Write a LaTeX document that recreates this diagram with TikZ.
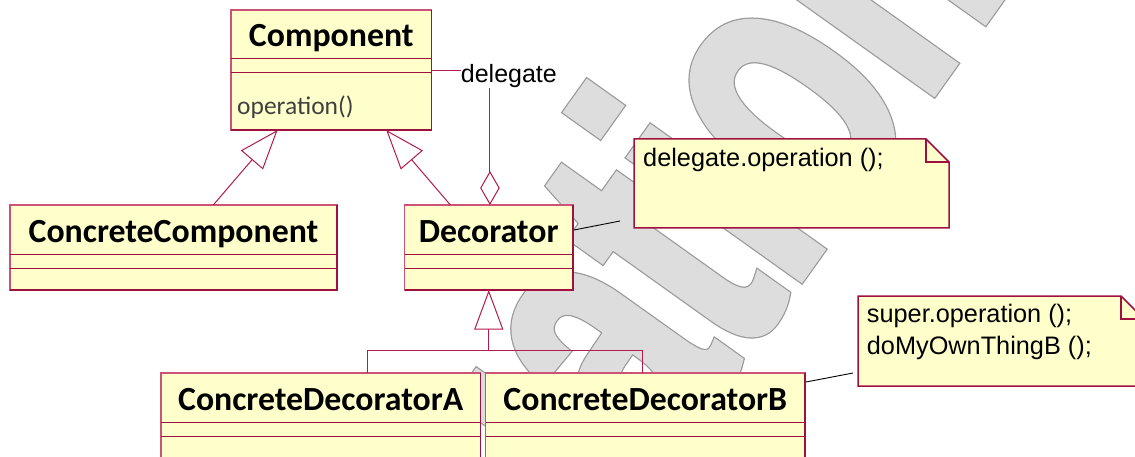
\documentclass[tikz,border=0pt]{standalone}
\usepackage{fontspec}
\setmainfont{Liberation Sans}
\newfontfamily\classfont{Carlito}
\newfontfamily\stampfont{Liberation Sans}[FakeStretch=0.647]
\usetikzlibrary{arrows.meta,calc}

\definecolor{boxfill}{HTML}{FFFFCC}
\definecolor{boxlight}{HTML}{CC5277}
\definecolor{boxdark}{HTML}{A0103F}
\definecolor{linkred}{HTML}{B31B4C}
\definecolor{stampface}{HTML}{DDDDDD}
\definecolor{stampedge}{HTML}{9A9A9A}

\tikzset{
  clsbox/.style={draw=boxlight, line width=1.3pt, fill=boxfill, inner sep=0pt, outer sep=0pt},
  clsshade/.style={draw=boxdark, line width=1.8pt},
  sepline/.style={draw=boxdark, line width=1pt},
  clstitle/.style={inner sep=0pt, font=\classfont\bfseries\fontsize{33.8}{40}\selectfont},
  opstext/.style={inner sep=0pt, text=black!75, font=\classfont\fontsize{25.5}{30}\selectfont},
  notebox/.style={inner sep=0pt, outer sep=0pt},
  noteshape/.style={draw=boxdark, line width=1.5pt, fill=boxfill, line join=miter},
  notetext/.style={inner sep=0pt, font=\fontsize{25.3}{30}\selectfont},
  conn/.style={draw=linkred, line width=1pt},
  gen/.style={conn, -{Triangle[length=39.5pt, width=29pt, fill=white]}},
  aggr/.style={conn, -{Diamond[length=34pt, width=19.5pt, fill=white]}},
  anchorline/.style={draw=black, line width=0.9pt},
  stamp/.style={inner sep=0pt, anchor=base west, rotate=54.5,
    font=\stampfont\bfseries\fontsize{397}{400}\selectfont},
}

% class box: name, top-left corner, width, height, title
\newcommand\umlclass[5]{%
  \node[clsbox, minimum width=#3pt, minimum height=#4pt, anchor=north west] (#1) at (#2) {};
  \draw[sepline] ($(#1.north west)+(0,49)$) -- ($(#1.north east)+(0,49)$);
  \draw[sepline] ($(#1.north west)+(0,63)$) -- ($(#1.north east)+(0,63)$);
  \draw[clsshade] (#1.north east) -- (#1.south east) -- (#1.south west);
  \node[clstitle, anchor=base] (#1-title) at ($(#1.north)+(0,37)$) {#5};
}

% note with folded corner: name, top-left corner, width, height
\newcommand\umlnote[4]{%
  \node[notebox, minimum width=#3pt, minimum height=#4pt, anchor=north west] (#1) at (#2) {};
  \filldraw[noteshape] (#1.north west) -- ($(#1.north east)+(-23,0)$) -- ($(#1.north east)+(0,23)$)
    -- (#1.south east) -- (#1.south west) -- cycle;
  \draw[noteshape, fill=none, line width=1.2pt] ($(#1.north east)+(-23,0)$) |- ($(#1.north east)+(0,23)$);
}

\begin{document}
\begin{tikzpicture}[x=1pt,y=-1pt]
\useasboundingbox (0,0) rectangle (1135,457);
\clip (0,0) rectangle (1135,457);

% background stamp: outline pass, then face pass
\node[stamp, text=stampedge] (stamp-edge) at (260.2,1037.3)
  {\special{pdf:code 2 Tr 9 w 0 j 4 M}Evaluation\special{pdf:code 0 Tr}};
\node[stamp, text=stampface] (stamp-face) at (260.2,1037.3)
  {\special{pdf:code 2 Tr 6.5 w 0 j 4 M}Evaluation\special{pdf:code 0 Tr}};

% classes
\umlclass{comp}{231,10}{200.5}{120}{Component}
\node[opstext, anchor=base west] (comp-op) at ($(comp.north west)+(6,105)$) {operation()};
\umlclass{ccomp}{10,205}{327}{85}{ConcreteComponent}
\umlclass{dec}{404.5,205}{168.5}{85}{Decorator}
\umlclass{cdA}{161,373}{319.5}{120}{ConcreteDecoratorA}
\umlclass{cdB}{485.7,373}{319.3}{120}{ConcreteDecoratorB}

% notes
\umlnote{n1}{634,139}{315}{89}
\node[notetext, anchor=base west] (n1-text) at ($(n1.north west)+(9,28)$) {delegate.operation ();};
\umlnote{n2}{858,296}{286}{90}
\node[notetext, anchor=base west] (n2-line1) at ($(n2.north west)+(8.7,26.7)$) {super.operation ();};
\node[notetext, anchor=base west] (n2-line2) at ($(n2.north west)+(8.7,58)$) {doMyOwnThingB ();};

% generalizations to Component
\draw[gen] ($(ccomp.north west)!0.6216!(ccomp.north east)$) -- ($(comp.south west)!0.2325!(comp.south east)$);
\draw[gen] ($(dec.north west)!0.2724!(dec.north east)$) -- ($(comp.south west)!0.774!(comp.south east)$);

% delegate aggregation
\draw[aggr] ($(comp.north east)+(0,61)$) -| ($(dec.north west)!0.507!(dec.north east)$);
\node[inner sep=0pt, fill=white, anchor=base west, font=\fontsize{25}{30}\selectfont] (dlg) at (460.7,82.7) {delegate};

% generalizations to Decorator
\coordinate (jn) at ($(dec.south)+(0,60.7)$);
\draw[gen] ($(cdA.north west)!0.6466!(cdA.north east)$) |- (jn) -- (dec.south);
\draw[conn] ($(cdB.north west)!0.4895!(cdB.north east)$) |- (jn);

% note attachments
\draw[anchorline] ($(dec.north east)+(1,25)$) -- ($(n1.south west)+(-14,-7)$);
\draw[anchorline] ($(cdB.north east)+(1,9)$) -- ($(n2.south west)+(-5,-13)$);
\end{tikzpicture}
\end{document}
